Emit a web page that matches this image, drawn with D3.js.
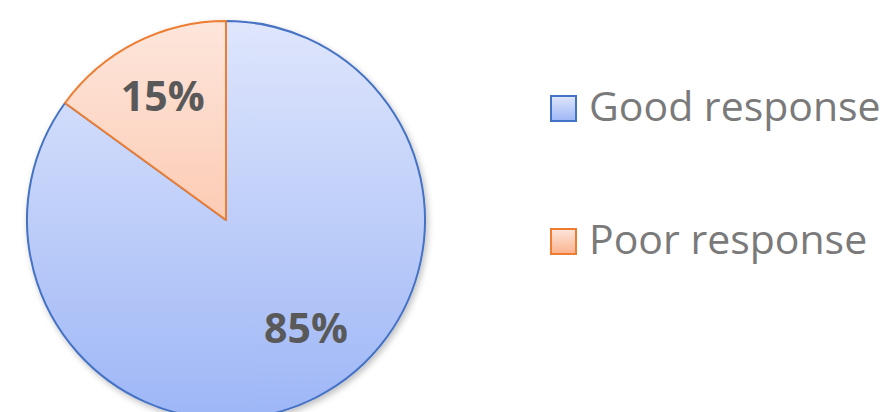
<!DOCTYPE html>
<html>
<head>
<meta charset="utf-8">
<script src="https://cdn.jsdelivr.net/npm/d3@7"></script>
<style>
  body { margin: 0; background: #fff; }
  svg { display: block; }
</style>
</head>
<body>
<div id="chart"></div>
<script>
let chart_width = 890;
let chart_height = 412;

// data
let categories = ['Good response', 'Poor response'];
let values = [85, 15];
let labels = ['85%', '15%'];

let grad_top = ['#dfe6fc', '#fde6dc'];
let grad_bottom = ['#9db6f6', '#fbb28d'];
let strokes = ['#4472c4', '#ed7d31'];

let cx = 226, cy = 220, radius = 199;

let svg = d3.select('#chart')
    .append('svg')
    .attr('width', chart_width)
    .attr('height', chart_height);

let defs = svg.append('defs');

categories.forEach(function(c, i){
    // gradient for slices, in the pie group's own coordinates
    let g = defs.append('linearGradient')
        .attr('id', 'grad' + i)
        .attr('gradientUnits', 'userSpaceOnUse')
        .attr('x1', 0).attr('x2', 0)
        .attr('y1', -radius).attr('y2', radius);
    g.append('stop').attr('offset', '0%').attr('stop-color', grad_top[i]);
    g.append('stop').attr('offset', '100%').attr('stop-color', grad_bottom[i]);

    let lg = defs.append('linearGradient')
        .attr('id', 'lgrad' + i)
        .attr('x1', 0).attr('x2', 0).attr('y1', 0).attr('y2', 1);
    lg.append('stop').attr('offset', '0%').attr('stop-color', grad_top[i]);
    lg.append('stop').attr('offset', '100%').attr('stop-color', grad_bottom[i]);
});

let shadow = defs.append('filter')
    .attr('id', 'shadow')
    .attr('x', '-10%').attr('y', '-10%')
    .attr('width', '130%').attr('height', '130%');
shadow.append('feDropShadow')
    .attr('dx', 2).attr('dy', 3)
    .attr('stdDeviation', 3)
    .attr('flood-color', '#000')
    .attr('flood-opacity', 0.25);

let pie = d3.pie().sort(null).value(d => d);
let arcs = pie(values);

let arc = d3.arc().innerRadius(0).outerRadius(radius);

let pieGroup = svg.append('g')
    .attr('transform', 'translate(' + cx + ',' + cy + ')');

pieGroup.append('g')
    .attr('filter', 'url(#shadow)')
    .selectAll('path')
    .data(arcs)
    .enter()
    .append('path')
    .attr('d', arc)
    .attr('fill', (d, i) => 'url(#grad' + i + ')')
    .attr('stroke', (d, i) => strokes[i])
    .attr('stroke-width', 2)
    .attr('stroke-linejoin', 'round');

// label spots: radius fraction and angle nudge (degrees) from the slice's mid angle
let labelRadius = [0.675, 0.70];
let labelNudge = [-9.5, 0];

pieGroup.selectAll('text')
    .data(arcs)
    .enter()
    .append('text')
    .text((d, i) => labels[i])
    .attr('transform', function(d, i){
        let a = (d.startAngle + d.endAngle) / 2 + labelNudge[i] * Math.PI / 180;
        let r = radius * labelRadius[i];
        return 'translate(' + (r * Math.sin(a)) + ',' + (-r * Math.cos(a)) + ')';
    })
    .attr('text-anchor', 'middle')
    .attr('dy', '0.36em')
    .attr('fill', '#595959')
    .style('font-family', '"Open Sans", sans-serif')
    .style('font-weight', 'bold')
    .style('font-size', '41px');

let legend = svg.append('g');
let legendY = [121, 254];

categories.forEach(function(c, i){
    legend.append('rect')
        .attr('x', 551)
        .attr('y', legendY[i] - 25)
        .attr('width', 25)
        .attr('height', 25)
        .attr('fill', 'url(#lgrad' + i + ')')
        .attr('stroke', strokes[i])
        .attr('stroke-width', 2);

    legend.append('text')
        .text(c)
        .attr('x', 589)
        .attr('y', legendY[i])
        .attr('fill', '#7a7a7a')
        .style('font-family', '"Open Sans", sans-serif')
        .style('font-size', '41px');
});
</script>
</body>
</html>
